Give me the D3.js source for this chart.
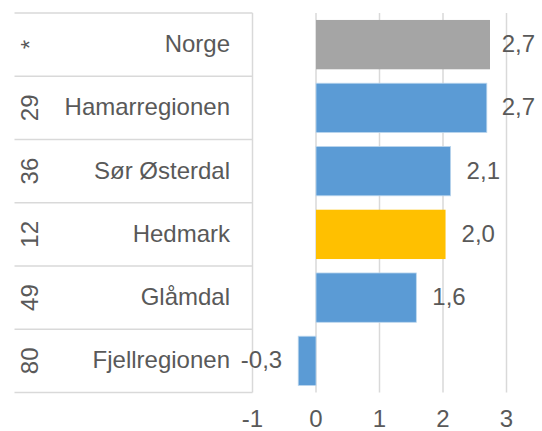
<!DOCTYPE html>
<html>
<head>
<meta charset="utf-8">
<script src="https://cdn.jsdelivr.net/npm/d3@7"></script>
<style>
  body { margin: 0; background: #fff; }
  text { font-family: "Liberation Sans", Arial, sans-serif; fill: #595959; }
</style>
</head>
<body>
<div id="chart"></div>
<script>
// Données
const categories = ["Norge", "Hamarregionen", "Sør Østerdal", "Hedmark", "Glåmdal", "Fjellregionen"];
const ranks = ["*", "29", "36", "12", "49", "80"];
const values = [2.74, 2.69, 2.12, 2.04, 1.58, -0.28];
const barColors = ["#a5a5a5", "#5b9bd5", "#5b9bd5", "#ffc000", "#5b9bd5", "#5b9bd5"];
const xTicks = [-1, 0, 1, 2, 3];

const width = 542;
const height = 431;
const fontSize = 24;

const svg = d3.select("#chart")
  .append("svg")
  .attr("width", width)
  .attr("height", height);

const x = d3.scaleLinear().domain([-1, 3]).range([252.5, 506.5]);

const y = d3.scaleBand()
  .domain(categories)
  .range([13, 392.5])
  .paddingInner(0.22)
  .paddingOuter(0.11);

const rowTop = (d) => y(d) - (y.step() - y.bandwidth()) / 2;
const rowMid = (d) => y(d) + y.bandwidth() / 2;

// Lignes de grille verticales
svg.append("g")
  .selectAll("line")
  .data(xTicks)
  .join("line")
  .attr("x1", (d) => x(d))
  .attr("x2", (d) => x(d))
  .attr("y1", y.range()[0])
  .attr("y2", y.range()[1])
  .attr("stroke", "#d9d9d9")
  .attr("stroke-width", 1.5);

// Lignes du tableau à gauche
const rowLines = categories.map(rowTop).concat([y.range()[1]]);
svg.append("g")
  .selectAll("line")
  .data(rowLines)
  .join("line")
  .attr("x1", 14.5)
  .attr("x2", x(-1))
  .attr("y1", (d) => d)
  .attr("y2", (d) => d)
  .attr("stroke", "#d9d9d9")
  .attr("stroke-width", 1.5);

// Barres
svg.append("g")
  .selectAll("rect")
  .data(values)
  .join("rect")
  .attr("x", (d) => x(Math.min(0, d)))
  .attr("y", (d, i) => y(categories[i]))
  .attr("width", (d) => Math.abs(x(d) - x(0)))
  .attr("height", y.bandwidth())
  .attr("fill", (d, i) => barColors[i])
  .attr("stroke", (d, i) => (barColors[i] === "#5b9bd5" ? "#bdd7ee" : "none"))
  .attr("stroke-width", 0.8);

// Rangs (texte vertical)
svg.append("g")
  .selectAll("text")
  .data(ranks)
  .join("text")
  .attr("transform", (d, i) => `translate(29.5,${rowMid(categories[i])}) rotate(-90)`)
  .attr("text-anchor", "middle")
  .attr("dominant-baseline", "central")
  .style("font-size", fontSize + "px")
  .text((d) => d);

// Noms des régions
svg.append("g")
  .selectAll("text")
  .data(categories)
  .join("text")
  .attr("x", 230)
  .attr("y", (d) => rowMid(d) - 1)
  .attr("text-anchor", "end")
  .attr("dominant-baseline", "central")
  .style("font-size", fontSize + "px")
  .text((d) => d);

// Étiquettes de valeurs
const fmt = (v) => d3.format(".1f")(v).replace(".", ",").replace("−", "-");
svg.append("g")
  .selectAll("text")
  .data(values)
  .join("text")
  .attr("y", (d, i) => rowMid(categories[i]) - 1)
  .attr("dominant-baseline", "central")
  .style("font-size", fontSize + "px")
  .text((d) => fmt(d))
  .each(function (d) {
    const w = this.getComputedTextLength();
    if (d >= 0) {
      d3.select(this).attr("x", Math.min(x(d) + 16, 535 - w));
    } else {
      d3.select(this).attr("x", x(d) - 16 - w);
    }
  });

// Axe horizontal
svg.append("g")
  .selectAll("text")
  .data(xTicks)
  .join("text")
  .attr("x", (d) => x(d))
  .attr("y", 427)
  .attr("text-anchor", "middle")
  .style("font-size", fontSize + "px")
  .text((d) => d);
</script>
</body>
</html>
